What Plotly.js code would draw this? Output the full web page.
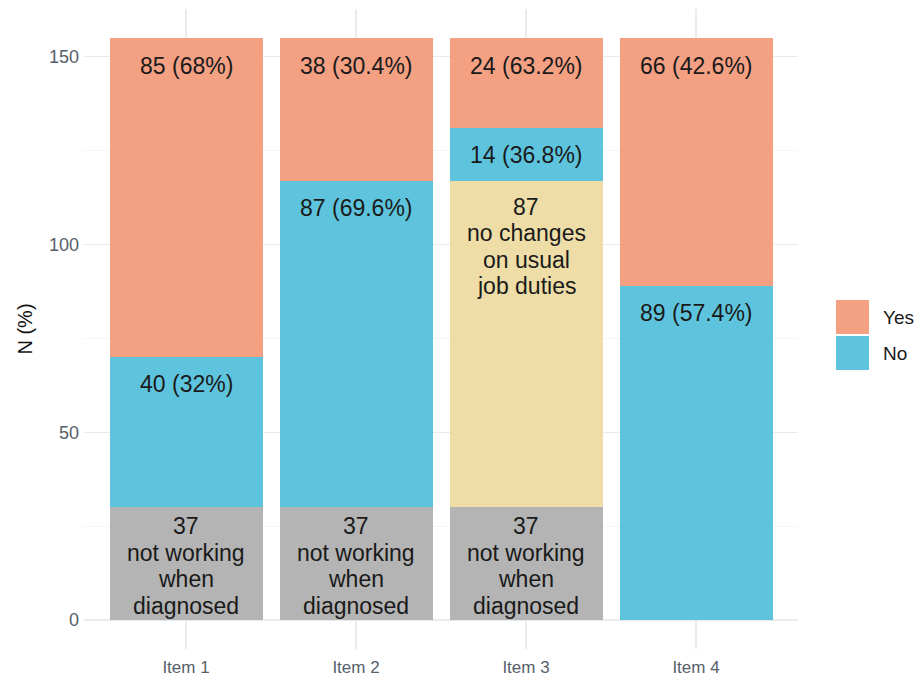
<!DOCTYPE html>
<html>
<head>
<meta charset="utf-8">
<script src="https://cdn.plot.ly/plotly-3.0.1.min.js"></script>
<style>
  html, body { margin: 0; padding: 0; background: #ffffff; }
  #chart { width: 915px; height: 681px; }
</style>
</head>
<body>
<div id="chart"></div>
<script>
// ---- data ----
const items = ['Item 1', 'Item 2', 'Item 3', 'Item 4'];
const notWorking = [30, 30, 30, 0];          // bar heights as drawn
const notWorkingN = [37, 37, 37, null];      // labelled counts
const noChanges = [0, 0, 87, 0];
const noVals = [40, 87, 14, 89];
const noPct = ['32%', '69.6%', '36.8%', '57.4%'];
const yesVals = [85, 38, 24, 66];
const yesPct = ['68%', '30.4%', '63.2%', '42.6%'];
const legendNames = ['Yes', 'No'];

// ---- style ----
const C = { yes: '#F4A083', no: '#5EC4DD', grey: '#B4B4B4', yellow: '#EEDDA7' };
const FONT = 'Liberation Sans, Arial, Helvetica, sans-serif';
const M = { l: 84, r: 117, t: 9, b: 32 };
const W = 915, H = 681;
const PW = W - M.l - M.r, PH = H - M.t - M.b;
const px2x = px => (px - M.l) / PW;
const px2y = py => (H - M.b - py) / PH;

function barTrace(vals, color) {
  return { type: 'bar', x: items, y: vals, marker: { color: color, line: { width: 0 } },
           showlegend: false, hoverinfo: 'skip' };
}
const data = [
  barTrace(notWorking, C.grey),
  barTrace(noChanges, C.yellow),
  barTrace(noVals, C.no),
  barTrace(yesVals, C.yes)
];

// ---- labels ----
const annotations = [];
const LINE = 26.5;
function addLabel(xCat, yTop, lines, offset) {
  lines.forEach((t, k) => {
    annotations.push({ x: xCat, y: yTop, xref: 'x', yref: 'y', text: t, showarrow: false,
      yanchor: 'middle', xanchor: 'center', yshift: -(offset + k * LINE),
      font: { family: FONT, size: 23, color: '#1a1a1a' } });
  });
}
items.forEach((it, i) => {
  const t1 = notWorking[i];
  const t2 = t1 + noChanges[i];
  const t3 = t2 + noVals[i];
  const t4 = t3 + yesVals[i];
  if (notWorkingN[i] !== null) addLabel(it, t1, [String(notWorkingN[i]), 'not working', 'when', 'diagnosed'], 19);
  if (noChanges[i] > 0) addLabel(it, t2, [String(noChanges[i]), 'no changes', 'on usual', 'job duties'], 26);
  addLabel(it, t3, [noVals[i] + ' (' + noPct[i] + ')'], 27);
  addLabel(it, t4, [yesVals[i] + ' (' + yesPct[i] + ')'], 28);
});

// ---- custom legend ----
const shapes = [];
const legColors = [C.yes, C.no];
legendNames.forEach((nm, k) => {
  const top = 300 + k * 36;
  shapes.push({ type: 'rect', xref: 'paper', yref: 'paper',
    x0: px2x(836), x1: px2x(869), y0: px2y(top + 34), y1: px2y(top),
    fillcolor: legColors[k], line: { width: 0 } });
  annotations.push({ xref: 'paper', yref: 'paper', x: px2x(881), y: px2y(top + 17),
    xanchor: 'left', yanchor: 'middle', text: nm, showarrow: false,
    font: { family: FONT, size: 19, color: '#1a1a1a' } });
});

const layout = {
  width: W, height: H,
  margin: M,
  paper_bgcolor: '#ffffff', plot_bgcolor: '#ffffff',
  barmode: 'stack', bargap: 0.1,
  showlegend: false,
  xaxis: {
    range: [-0.6, 3.6], showgrid: true, gridcolor: '#E8ECEE', gridwidth: 1.2,
    zeroline: false, showline: false, ticks: '',
    tickfont: { family: FONT, size: 17, color: '#56606a' }, ticklabelstandoff: 6
  },
  yaxis: {
    range: [-7.75, 162.75], tickvals: [0, 50, 100, 150], showgrid: true,
    gridcolor: '#E8ECEE', gridwidth: 1.2, zeroline: false, showline: false, ticks: '',
    minor: { tickvals: [25, 75, 125], showgrid: true, gridcolor: '#F1F3F4', gridwidth: 0.8 },
    tickfont: { family: FONT, size: 18, color: '#56606a' }, ticklabelstandoff: 4,
    title: { text: 'N (%)', font: { family: FONT, size: 20, color: '#111111' }, standoff: 10 }
  },
  annotations: annotations,
  shapes: shapes
};

Plotly.newPlot('chart', data, layout, { staticPlot: true, displayModeBar: false });
</script>
</body>
</html>
